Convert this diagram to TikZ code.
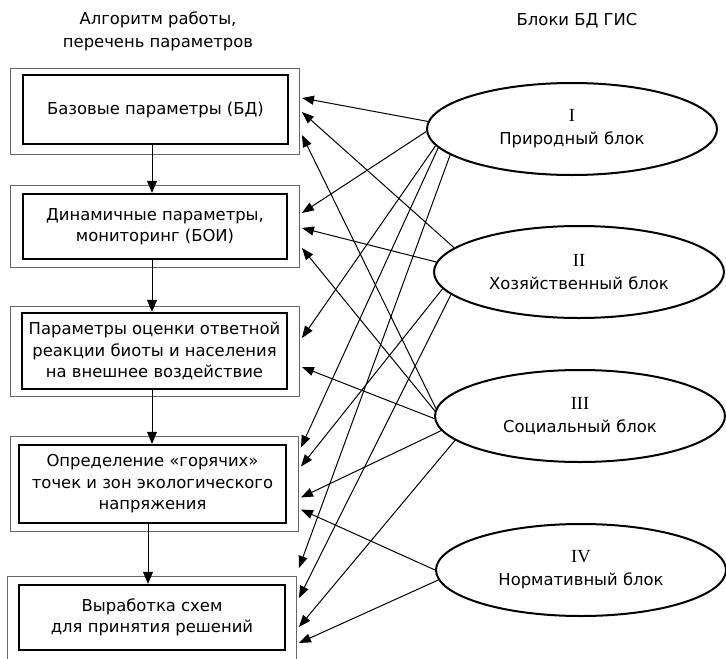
\documentclass[tikz,border=0pt]{standalone}
\usepackage{fontspec}
\setmainfont{DejaVu Sans}
\newfontfamily\numfont{Liberation Serif}
\usetikzlibrary{arrows.meta,shapes.geometric}
\tikzset{
	outerbox/.style={draw=black!60,line width=0.9pt,inner sep=0pt},
	innerbox/.style={draw=black,line width=2.4pt,inner sep=0pt,align=center,
		font=\fontsize{16.4}{21.5}\selectfont},
	gisblock/.style={ellipse,draw=black,line width=2pt,inner sep=0pt,
		minimum width=290pt,minimum height=92pt,align=center,
		font=\fontsize{16.4}{23}\selectfont},
	header/.style={align=center,inner sep=0pt,font=\fontsize{16.4}{23}\selectfont},
	flowarrow/.style={-{Triangle[length=12pt,width=10pt]},line width=1pt},
	link/.style={-{Triangle[length=12pt,width=9pt]},line width=1pt}
}
\begin{document}
\begin{tikzpicture}[x=1pt,y=-1pt]
	\useasboundingbox (0,0) rectangle (726,659);
	\node[header] (hleft) at (158,31) {Алгоритм работы,\\перечень параметров};
	\node[header] (hright) at (577,21) {Блоки БД ГИС};
	% outer frames
	\node[outerbox,minimum width=289pt,minimum height=86pt] (b1) at (154.5,111) {};
	\node[outerbox,minimum width=289pt,minimum height=82pt] (b2) at (154.5,226) {};
	\node[outerbox,minimum width=289pt,minimum height=90pt] (b3) at (154.5,351) {};
	\node[outerbox,minimum width=288pt,minimum height=95pt] (b4) at (154,483.5) {};
	\node[outerbox,minimum width=289pt,minimum height=100pt] (b5) at (151.5,626) {};
	% parameter boxes
	\node[innerbox,minimum width=265pt,minimum height=69pt] (b1i) at (155.5,109.5)
		{Базовые параметры (БД)};
	\node[innerbox,minimum width=264pt,minimum height=65pt] (b2i) at (155,226.5)
		{Динамичные параметры,\\мониторинг (БОИ)};
	\node[innerbox,minimum width=265pt,minimum height=76pt] (b3i) at (154.5,351)
		{Параметры оценки ответной\\реакции биоты и населения\\на внешнее воздействие};
	\node[innerbox,minimum width=267pt,minimum height=78pt] (b4i) at (152.5,484)
		{Определение «горячих»\\точек и зон экологического\\напряжения};
	\node[innerbox,minimum width=266pt,minimum height=65pt] (b5i) at (152,617.5)
		{Выработка схем\\для принятия решений};
	% GIS blocks
	\node[gisblock] (e1) at (572,129) {{\numfont\fontsize{18.5}{23}\selectfont I}\\Природный блок};
	\node[gisblock] (e2) at (579,272) {{\numfont\fontsize{18.5}{23}\selectfont II}\\Хозяйственный блок};
	\node[gisblock] (e3) at (580,416) {{\numfont\fontsize{18.5}{23}\selectfont III}\\Социальный блок};
	\node[gisblock] (e4) at (581,570) {{\numfont\fontsize{18.5}{23}\selectfont IV}\\Нормативный блок};
	% algorithm sequence
	\foreach \p/\q/\s in {b1/b2/-3.5,b2/b3/-3,b3/b4/-2.5,b4/b5/-4.5}
		\draw[flowarrow] ([xshift=\s pt]\p i.south) -- ([xshift=\s pt]\p i.south |- \q i.north);
	% links from blocks to parameters
	\foreach \e/\a/\b/\s in {e1/177.6/b1/13,e1/181.6/b2/13,e1/187.2/b3/13,e1/188.9/b4/36,e1/192.5/b5/58,
		e2/169.9/b1/-1,e2/176/b2/-2,e2/187/b4/17,e2/190.1/b5/28,
		e3/177/b1/-24,e3/178.5/b2/-22,e3/181/b3/-16,e3/186.2/b4/-14,e3/191.2/b5/-1,
		e4/180/b4/-26,e4/184.3/b5/-17}
		\draw[link] (\e.\a) -- ([xshift=2.5pt,yshift=\s pt]\b.east);
\end{tikzpicture}
\end{document}
